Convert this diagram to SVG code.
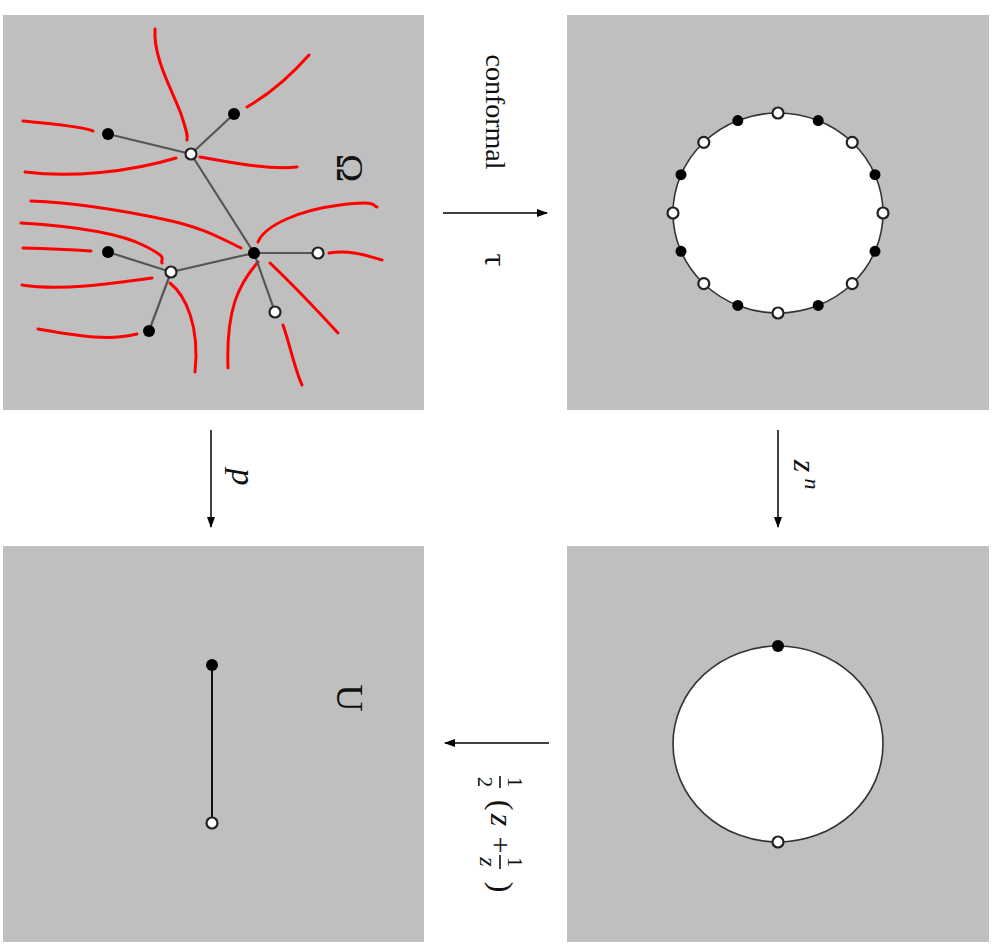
<svg xmlns="http://www.w3.org/2000/svg" width="997" height="951" viewBox="0 0 997 951">
<style>
.panel{fill:#bfbfbf}
.edge{stroke:#555;stroke-width:2.2;fill:none}
.red{stroke:#ff0000;stroke-width:3;fill:none;stroke-linecap:round}
.blk{fill:#000}
.opn{fill:#fff;stroke:#222;stroke-width:2.2}
.arrow{stroke:#000;stroke-width:1.5;fill:none;marker-end:url(#ah)}
.lbl{font-family:"Liberation Serif","Times New Roman",serif;fill:#111}
.it{font-style:italic}
.disk{fill:#fff;stroke:#333;stroke-width:1.6}
</style>
<defs>
<marker id="ah" markerUnits="userSpaceOnUse" markerWidth="11" markerHeight="8" refX="10" refY="4" orient="auto">
<path d="M0,0 L11,4 L0,8 Z" fill="#000"/>
</marker>
</defs>
<rect width="997" height="951" fill="#fff"/>

<!-- Panel 1: Omega with tree -->
<g id="panel-omega">
<rect class="panel" x="3" y="15" width="421" height="395"/>
<text class="lbl" font-size="38" text-anchor="middle" transform="translate(337,168) rotate(90)">Ω</text>
<g id="level-lines">
<path class="red" d="M155,29 C153,60 175,95 182,117 S187,135 187,140"/>
<path class="red" d="M247,107 Q280,88 309,55"/>
<path class="red" d="M23,121 C50,124 80,126 93,131"/>
<path class="red" d="M25,172 C70,178 130,172 176,158"/>
<path class="red" d="M200,157 C233,163 270,170 297,167"/>
<path class="red" d="M31,201 C80,203 130,212 167,220 S220,238 241,248"/>
<path class="red" d="M21,223 C70,226 120,233 145,246 S160,258 162,263"/>
<path class="red" d="M23,248 Q60,249 91,251"/>
<path class="red" d="M22,285 C60,291 110,284 152,278"/>
<path class="red" d="M38,329 C70,334 105,342 137,334"/>
<path class="red" d="M170,283 C185,295 200,325 195,372"/>
<path class="red" d="M258,262 C238,285 226,310 228,368"/>
<path class="red" d="M258,242 C265,225 300,210 340,205 S372,206 377,207"/>
<path class="red" d="M329,253 C350,250 365,255 382,260"/>
<path class="red" d="M270,263 C290,282 315,308 338,333"/>
<path class="red" d="M283,325 C290,345 295,370 302,385"/>
</g>
</g>

<!-- Panel 2: circle with 16 points -->
<g id="panel-circle16">
<rect class="panel" x="567" y="15" width="422" height="395"/>
<ellipse class="disk" cx="778" cy="213" rx="105" ry="100"/>
</g>

<!-- Panel 3: U with segment -->
<g id="panel-U">
<rect class="panel" x="3" y="546" width="421" height="396"/>
<text class="lbl" font-size="38" text-anchor="middle" transform="translate(337,698) rotate(90)">U</text>
</g>

<!-- Panel 4: circle with 2 points -->
<g id="panel-circle2">
<rect class="panel" x="567" y="546" width="422" height="396"/>
<ellipse class="disk" cx="778" cy="744" rx="105" ry="98" stroke="#111"/>
</g>

<!-- Connectors -->
<g id="connectors">
<line class="edge" x1="191" y1="154" x2="108" y2="134"/>
<line class="edge" x1="191" y1="154" x2="234" y2="114"/>
<line class="edge" x1="191" y1="154" x2="254" y2="253"/>
<line class="edge" x1="254" y1="253" x2="318" y2="253" stroke="#222"/>
<line class="edge" x1="254" y1="253" x2="275" y2="312"/>
<line class="edge" x1="254" y1="253" x2="171" y2="272"/>
<line class="edge" x1="171" y1="272" x2="108" y2="252"/>
<line class="edge" x1="171" y1="272" x2="149" y2="331"/>
<line x1="212" y1="665" x2="212" y2="823" stroke="#111" stroke-width="2"/>
<line class="arrow" x1="443" y1="213" x2="547" y2="213"/>
<line class="arrow" x1="778" y1="430" x2="778" y2="527"/>
<line class="arrow" x1="211" y1="430" x2="211" y2="527"/>
<line class="arrow" x1="549" y1="743" x2="445" y2="743"/>
</g>

<!-- Tree nodes -->
<g id="node-A"><circle class="opn" cx="191" cy="154" r="5.5"/></g>
<g id="node-B"><circle class="blk" cx="108" cy="134" r="6"/></g>
<g id="node-C"><circle class="blk" cx="234" cy="114" r="6"/></g>
<g id="node-D"><circle class="blk" cx="254" cy="253" r="6"/></g>
<g id="node-E"><circle class="opn" cx="318" cy="253" r="5.5"/></g>
<g id="node-F"><circle class="opn" cx="275" cy="312" r="5.5"/></g>
<g id="node-G"><circle class="opn" cx="171" cy="272" r="5.5"/></g>
<g id="node-H"><circle class="blk" cx="108" cy="252" r="6"/></g>
<g id="node-I"><circle class="blk" cx="149" cy="331" r="6"/></g>

<!-- Circle points -->
<g id="circle16-points">
<circle class="opn" cx="883" cy="213" r="5.5"/>
<circle class="blk" cx="875" cy="174.7" r="5.5"/>
<circle class="opn" cx="852.2" cy="142.3" r="5.5"/>
<circle class="blk" cx="818.2" cy="120.6" r="5.5"/>
<circle class="opn" cx="778" cy="113" r="5.5"/>
<circle class="blk" cx="737.8" cy="120.6" r="5.5"/>
<circle class="opn" cx="703.8" cy="142.3" r="5.5"/>
<circle class="blk" cx="681" cy="174.7" r="5.5"/>
<circle class="opn" cx="673" cy="213" r="5.5"/>
<circle class="blk" cx="681" cy="251.3" r="5.5"/>
<circle class="opn" cx="703.8" cy="283.7" r="5.5"/>
<circle class="blk" cx="737.8" cy="305.4" r="5.5"/>
<circle class="opn" cx="778" cy="313" r="5.5"/>
<circle class="blk" cx="818.2" cy="305.4" r="5.5"/>
<circle class="opn" cx="852.2" cy="283.7" r="5.5"/>
<circle class="blk" cx="875" cy="251.3" r="5.5"/>
</g>
<g id="circle2-points">
<circle class="blk" cx="778" cy="646" r="6"/>
<circle class="opn" cx="778" cy="842" r="5.5"/>
</g>
<g id="segment-points">
<circle class="blk" cx="212" cy="665" r="6"/>
<circle class="opn" cx="212" cy="823" r="5.5"/>
</g>

<!-- Labels -->
<g id="labels">
<text class="lbl" font-size="28" text-anchor="middle" transform="translate(486,112) rotate(90)">conformal</text>
<text class="lbl" font-size="32" text-anchor="middle" transform="translate(485,260) rotate(90)">τ</text>
<text class="lbl it" font-size="32" text-anchor="middle" transform="translate(794,466) rotate(90)">z</text>
<text class="lbl it" font-size="22" text-anchor="middle" transform="translate(805,484) rotate(90)">n</text>
<text class="lbl it" font-size="34" text-anchor="middle" transform="translate(232,477) rotate(90)">p</text>
<g transform="translate(500,782) rotate(90)">
<text class="lbl" font-size="21" text-anchor="middle" x="0" y="-8">1</text>
<line x1="-6" y1="0" x2="6" y2="0" stroke="#111" stroke-width="1.6"/>
<text class="lbl" font-size="21" text-anchor="middle" x="0" y="22">2</text>
<text class="lbl" font-size="32" text-anchor="middle" x="23" y="9">(</text>
<text class="lbl it" font-size="32" text-anchor="middle" x="38" y="9">z</text>
<text class="lbl" font-size="30" text-anchor="middle" x="63" y="9">+</text>
<text class="lbl" font-size="21" text-anchor="middle" x="80" y="-8">1</text>
<line x1="73" y1="0" x2="87" y2="0" stroke="#111" stroke-width="1.6"/>
<text class="lbl it" font-size="24" text-anchor="middle" x="80" y="20">z</text>
<text class="lbl" font-size="32" text-anchor="middle" x="105" y="9">)</text>
</g>
</g>
</svg>
